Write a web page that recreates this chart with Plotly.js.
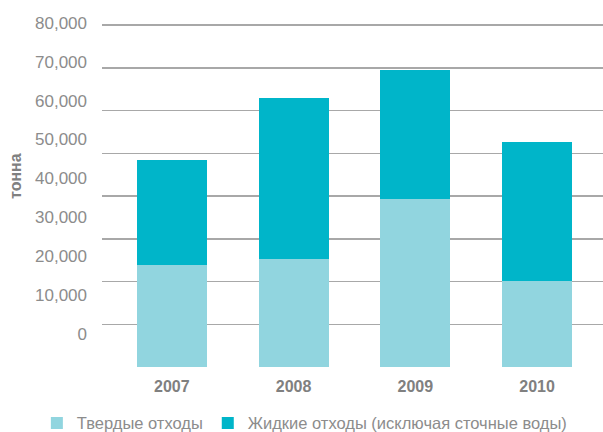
<!DOCTYPE html>
<html>
<head>
<meta charset="utf-8">
<script src="https://cdn.plot.ly/plotly-3.0.1.min.js"></script>
<style>
	html, body { margin: 0; padding: 0; background: #fff; }
	#chart { width: 603px; height: 432px; }
</style>
</head>
<body>
<div id="chart"></div>
<script>
// Years on the x axis
const years = ['2007', '2008', '2009', '2010']

// Tonnes per year
const solidWaste = [23900, 25300, 39300, 20100]
const liquidWaste = [24500, 37600, 30200, 32500]

const solidName = 'Твердые отходы'
const liquidName = 'Жидкие отходы (исключая сточные воды)'

// Tick values as printed on the left (the printed labels sit above their gridlines)
const tickValues = [0, 10000, 20000, 30000, 40000, 50000, 60000, 70000, 80000]

const FONT = 'Liberation Sans, Arial, Helvetica, sans-serif'
const GREY = '#8c8c8c'

const data = [
	{
		name: solidName,
		type: 'bar',
		x: years,
		y: solidWaste,
		marker: { color: '#91d5df' },
		hoverinfo: 'skip',
	}, {
		name: liquidName,
		type: 'bar',
		x: years,
		y: liquidWaste,
		marker: { color: '#00b5c9' },
		hoverinfo: 'skip',
	}, {
		// empty trace so the label axis gets drawn
		x: [], y: [],
		type: 'scatter',
		yaxis: 'y2',
		showlegend: false,
		hoverinfo: 'skip',
	},
]

const layout = {
	width: 603,
	height: 432,
	margin: { l: 102, r: 0, t: 15, b: 65, autoexpand: false },
	paper_bgcolor: '#fff',
	plot_bgcolor: '#fff',
	font: { family: FONT, color: GREY, size: 16 },
	barmode: 'stack',
	bargap: 0.425,
	showlegend: true,
	legend: {
		orientation: 'h',
		traceorder: 'normal',
		x: -0.13,
		xanchor: 'left',
		y: -0.11,
		yanchor: 'top',
		font: { family: FONT, color: GREY, size: 16.5 },
		itemwidth: 30,
	},
	xaxis: {
		type: 'category',
		range: [-0.574, 3.542],
		showgrid: false,
		zeroline: false,
		showline: false,
		ticks: '',
		ticklabelstandoff: 8,
		tickfont: { family: FONT, color: '#808080', size: 16, weight: 'bold' },
		fixedrange: true,
	},
	// gridlines: 0 at bottom, 80,000 on the top line
	yaxis: {
		range: [0, 82339],
		tickvals: tickValues,
		showticklabels: false,
		showgrid: true,
		gridcolor: '#a8a8a8',
		gridwidth: 1.5,
		zeroline: false,
		showline: false,
		ticks: '',
		fixedrange: true,
	},
	// labels only, spaced like the printed ones
	yaxis2: {
		overlaying: 'y',
		side: 'left',
		range: [-8483, 82005],
		tickvals: tickValues,
		tickformat: ',d',
		showgrid: false,
		zeroline: false,
		showline: false,
		ticks: '',
		ticklabelstandoff: 14,
		tickfont: { family: FONT, color: GREY, size: 17 },
		fixedrange: true,
	},
	annotations: [
		{
			text: '<b>тонна</b>',
			xref: 'paper', yref: 'paper',
			x: -0.1737, y: 0.5426,
			xanchor: 'center', yanchor: 'middle',
			textangle: -90,
			showarrow: false,
			font: { family: FONT, color: '#808080', size: 16 },
		},
	],
}

Plotly.newPlot('chart', data, layout, { staticPlot: true, displayModeBar: false })
</script>
</body>
</html>
